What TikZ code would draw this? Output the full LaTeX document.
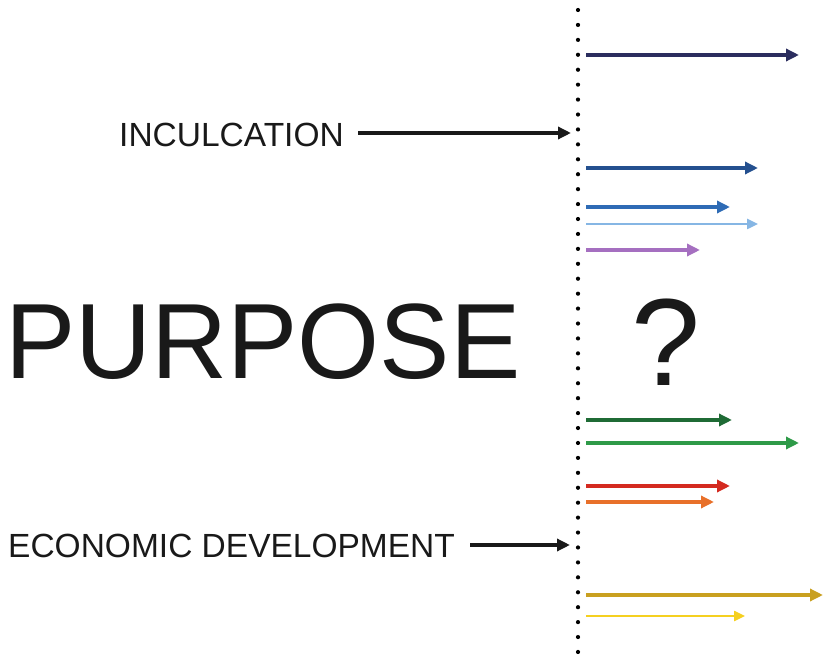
\documentclass[tikz,border=0pt]{standalone}
\usepackage{fontspec}
\setmainfont{Liberation Sans}
\usetikzlibrary{arrows.meta}
\definecolor{cnavy}{HTML}{2B2D5E}
\definecolor{cblueA}{HTML}{24508F}
\definecolor{cblueB}{HTML}{2E6BB5}
\definecolor{cblueC}{HTML}{86B6E4}
\definecolor{cpurple}{HTML}{A56FC0}
\definecolor{cgreenA}{HTML}{1F6B35}
\definecolor{cgreenB}{HTML}{2E9A48}
\definecolor{cred}{HTML}{D42A20}
\definecolor{corange}{HTML}{E8702A}
\definecolor{cgold}{HTML}{C9A020}
\definecolor{cyellow}{HTML}{F5D020}
\tikzset{
  lbl/.style={inner sep=0pt, anchor=base west, text=black!90},
  blackarrow/.style={line width=3.4pt, draw=black!90, -{Triangle[length=13pt,width=12pt]}},
  colarrow/.style={line width=3.6pt, -{Triangle[length=13pt,width=12pt]}},
  thinarrow/.style={line width=2.4pt, -{Triangle[length=11pt,width=10pt]}},
  dot/.style={circle, fill=black, inner sep=0pt, minimum size=4.2pt}
}
\begin{document}
\begin{tikzpicture}[x=1pt,y=-1pt]
\useasboundingbox (0,0) rectangle (823,668);
% dotted divider
\foreach \k in {0,...,43} {
  \node[dot] (d\k) at (578,{10+14.93*\k}) {};
}
% labels
\node[lbl, font=\fontsize{33.5}{33.5}\selectfont] (inc) at (119,147) {INCULCATION};
\node[lbl, font=\fontsize{33.5}{33.5}\selectfont] (eco) at (8,558) {ECONOMIC DEVELOPMENT};
\node[lbl, font=\fontsize{107}{107}\selectfont, xscale=0.985] (purp) at (5,379) {PURPOSE};
\node[inner sep=0pt, anchor=base, font=\fontsize{124}{124}\selectfont, text=black!90] (q) at (666,386) {?};
% black arrows
\coordinate (incS) at (358,133); \coordinate (incE) at (571,133);
\coordinate (ecoS) at (470,545); \coordinate (ecoE) at (570,545);
\draw[blackarrow] (incS) -- (incE);
\draw[blackarrow] (ecoS) -- (ecoE);
% coloured arrows
\foreach \n/\y/\xe/\c/\s in {
  a/55/799/cnavy/colarrow,
  b/168/758/cblueA/colarrow,
  c/207/730/cblueB/colarrow,
  d/224/758/cblueC/thinarrow,
  e/250/700/cpurple/colarrow,
  f/420/732/cgreenA/colarrow,
  g/443/799/cgreenB/colarrow,
  h/486/730/cred/colarrow,
  i/502/714/corange/colarrow,
  j/595/823/cgold/colarrow,
  k/616/745/cyellow/thinarrow} {
  \coordinate (\n S) at (586,\y);
  \coordinate (\n E) at (\xe,\y);
  \draw[\s, draw=\c, fill=\c] (\n S) -- (\n E);
}
\end{tikzpicture}
\end{document}
